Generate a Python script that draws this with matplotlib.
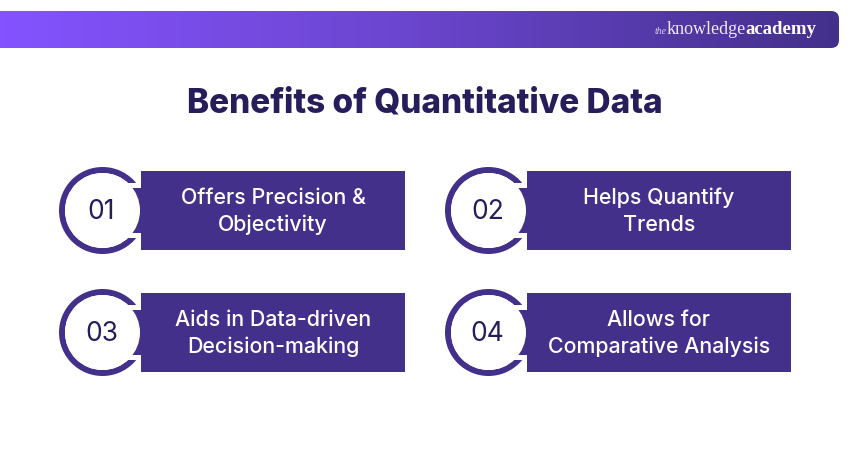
import numpy as np
import matplotlib
matplotlib.use('Agg')
import matplotlib.pyplot as plt
from matplotlib.colors import LinearSegmentedColormap
from matplotlib.patches import Circle, FancyBboxPatch, Rectangle, Wedge

title = 'Benefits of Quantitative Data'
numbers = ['01', '02', '03', '04']
first_lines = ['Offers Precision &', 'Helps Quantify', 'Aids in Data-driven', 'Allows for']
second_lines = ['Objectivity', 'Trends', 'Decision-making', 'Comparative Analysis']

purple = '#43308B'
navy = '#261D5A'
font = 'Inter'

# one pixel is one data unit, y going down like in the picture
fig = plt.figure(figsize=(8.5, 4.5), dpi=100)
ax = fig.add_axes([0, 0, 1, 1])
ax.set_xlim(0, 850)
ax.set_ylim(450, 0)
ax.axis('off')

# header bar with the gradient
cmap = LinearSegmentedColormap.from_list('bar', ['#8453FF', '#6A45CC', purple])
grad = np.linspace(0, 1, 256).reshape(1, -1)
img = ax.imshow(grad, cmap=cmap, extent=[0, 839, 48, 11], aspect='auto', zorder=1)
clip = FancyBboxPatch((-30, 11), 869, 37, boxstyle='round,pad=0,rounding_size=8',
                      transform=ax.transData, facecolor='none', edgecolor='none')
ax.add_patch(clip)
img.set_clip_path(clip)
ax.set_xlim(0, 850)
ax.set_ylim(450, 0)

# logo
ax.text(655, 34, 'the', color='#D9D2EE', fontsize=7, style='italic',
        family='Liberation Serif', va='baseline', ha='left', zorder=3)
ax.text(667, 34.5, 'knowledge', color='#EDE9F7', fontsize=13, family='Liberation Serif',
        va='baseline', ha='left', zorder=3)
ax.text(816, 34.5, 'academy', color='white', fontsize=13.5, weight='bold',
        family='Liberation Serif', va='baseline', ha='right', zorder=3)

ax.text(425, 103.5, title, color=navy, fontsize=24, weight=800, family=font,
        ha='center', va='center')

for i, num in enumerate(numbers):
    dx = 386 * (i % 2)
    dy = 122 * (i // 2)
    cx = 102.5 + dx
    cy = 210.5 + dy

    ax.add_patch(Wedge((cx, cy), 43.5, 0, 360, width=6, facecolor=purple,
                       edgecolor='none', zorder=2))
    # gap in the ring where the box comes in
    ax.add_patch(Rectangle((cx + 12, cy - 27.5), 40, 55, facecolor='white',
                           edgecolor='none', zorder=3))
    ax.add_patch(Rectangle((cx + 20, cy - 22.5), 30, 45, facecolor=purple,
                           edgecolor='none', zorder=4))
    ax.add_patch(Circle((cx, cy), 37.5, facecolor='white', edgecolor='none', zorder=5))
    ax.add_patch(Rectangle((141 + dx, 171 + dy), 264, 79, facecolor=purple,
                           edgecolor='none', zorder=6))

    ax.text(cx - 1, cy + 1.5, num, color=navy, fontsize=19, family=font, ha='center',
            va='center', zorder=7)
    ax.text(273 + dx, 197.5 + dy, first_lines[i], color='white', fontsize=15.4,
            weight='medium', family=font, ha='center', va='center', zorder=7)
    ax.text(273 + dx, 225 + dy, second_lines[i], color='white', fontsize=15.4,
            weight='medium', family=font, ha='center', va='center', zorder=7)

fig.savefig('out.png', dpi=100, facecolor='white')
